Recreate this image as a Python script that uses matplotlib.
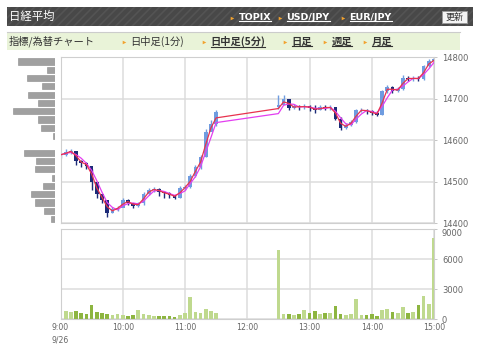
import matplotlib
matplotlib.use("Agg")
import numpy as np
import pandas as pd
import matplotlib.pyplot as plt
from matplotlib.patches import Rectangle
from matplotlib.lines import Line2D

# ---- data (5-minute bars, Nikkei 225 intraday, 9/26) ----
am_minutes = list(range(0, 151, 5))      # 9:00 .. 11:30
pm_minutes = list(range(210, 361, 5))    # 12:30 .. 15:00

am_open_first = 14560
pm_open_first = 14680

close_am = [14565, 14572, 14575, 14550, 14545, 14538, 14500, 14470, 14455, 14425,
            14435, 14437, 14455, 14450, 14442, 14448, 14470, 14480, 14483, 14475,
            14472, 14468, 14462, 14485, 14487, 14515, 14535, 14560, 14620, 14640, 14668]
high_am = [14570, 14578, 14580, 14565, 14552, 14548, 14530, 14480, 14470, 14455,
           14440, 14442, 14460, 14458, 14450, 14452, 14475, 14485, 14488, 14485,
           14478, 14475, 14468, 14490, 14492, 14520, 14540, 14565, 14628, 14648, 14672]
low_am = [14558, 14562, 14566, 14540, 14536, 14530, 14480, 14460, 14448, 14415,
          14425, 14430, 14440, 14444, 14438, 14440, 14445, 14468, 14475, 14465,
          14462, 14460, 14458, 14460, 14480, 14485, 14512, 14532, 14560, 14622, 14635]

close_pm = [14685, 14700, 14678, 14682, 14680, 14682, 14678, 14672, 14680, 14678,
            14680, 14652, 14630, 14637, 14645, 14672, 14673, 14670, 14665, 14662,
            14718, 14728, 14718, 14724, 14750, 14748, 14750, 14748, 14778, 14790, 14795]
high_pm = [14710, 14708, 14690, 14688, 14686, 14688, 14686, 14684, 14686, 14684,
           14686, 14680, 14655, 14642, 14650, 14676, 14678, 14676, 14672, 14670,
           14722, 14733, 14730, 14728, 14758, 14756, 14756, 14754, 14782, 14796, 14800]
low_pm = [14676, 14690, 14672, 14675, 14674, 14675, 14670, 14666, 14672, 14672,
          14674, 14648, 14625, 14628, 14635, 14642, 14668, 14664, 14660, 14658,
          14660, 14715, 14714, 14716, 14722, 14742, 14744, 14744, 14746, 14776, 14785]

volume_am = [8300, 800, 700, 800, 600, 500, 1400, 700, 600, 500,
             400, 500, 400, 350, 450, 900, 500, 400, 350, 300,
             350, 300, 250, 400, 600, 2200, 700, 600, 1000, 800, 600]
volume_pm = [6900, 500, 550, 450, 500, 900, 600, 800, 500, 600,
             650, 1300, 500, 400, 500, 2000, 450, 400, 500, 350,
             900, 1000, 700, 600, 1200, 600, 700, 1400, 2300, 1500, 8100]

# volume-by-price histogram (bins of 20 yen, from 14400 upward)
vbp_bins = list(range(14400, 14800, 20))
vbp_volume = [4, 11, 20, 24, 12, 3, 20, 19, 31, 0,
              2, 14, 17, 42, 17, 27, 13, 28, 8, 37]

time_ticks = [0, 60, 120, 180, 240, 300, 360]
time_labels = ['9:00\n9/26', '10:00', '11:00', '12:00', '13:00', '14:00', '15:00']
price_ticks = [14400, 14500, 14600, 14700, 14800]
volume_ticks = [0, 3000, 6000, 9000]

# ---- build frame ----
t = np.array(am_minutes + pm_minutes)
close = pd.Series(close_am + close_pm)
high = np.array(high_am + high_pm)
low = np.array(low_am + low_pm)
opens = close.shift(1).to_numpy()
opens[0] = am_open_first
opens[len(am_minutes)] = pm_open_first
volume = np.array(volume_am + volume_pm)
ma_short = close.rolling(2, min_periods=1).mean()
ma_long = close.rolling(3, min_periods=1).mean()
up = close.to_numpy() >= opens

W, H = 480, 348
fig = plt.figure(figsize=(W / 100, H / 100), dpi=100)
fig.patch.set_facecolor('white')

grid_c = '#dcdcdc'
tick_c = '#666666'
cjk = ['Noto Sans CJK JP', 'DejaVu Sans']


def px_axes(x0, y0, x1, y1):
    return fig.add_axes([x0 / W, 1 - y1 / H, (x1 - x0) / W, (y1 - y0) / H])


def style_axes(ax):
    for s in ax.spines.values():
        s.set_color('#cfcfcf')
        s.set_linewidth(0.8)
    ax.grid(True, color=grid_c, linewidth=1.1)
    ax.set_axisbelow(True)
    ax.yaxis.tick_right()
    ax.tick_params(axis='y', length=2.5, width=0.6, color='#bbbbbb',
                   labelsize=6.0, labelcolor=tick_c, pad=3.2)


# price panel
ax = px_axes(60.5, 57.3, 434, 223.3)
style_axes(ax)
ax.set_xlim(0, 360)
ax.set_ylim(14400, 14800)
ax.set_yticks(price_ticks)
ax.set_xticks(time_ticks)
ax.tick_params(axis='x', length=0, labelbottom=False)

candle_col = np.where(up, '#6f9ce0', '#1c2b78')
ax.vlines(t, low, high, colors=candle_col, linewidth=1.0, zorder=2)
body = np.abs(close.to_numpy() - opens)
body = np.where(body < 1.5, 1.5, body)
ax.bar(t, body, bottom=np.minimum(close.to_numpy(), opens), width=3.6,
       color=candle_col, linewidth=0, zorder=2)
ax.plot(t, ma_long, color='#e33ef0', linewidth=0.9, zorder=3)
ax.plot(t, ma_short, color='#e8324e', linewidth=0.9, zorder=4)

# volume panel
axv = px_axes(60.5, 229.3, 434, 319.3)
style_axes(axv)
axv.set_xlim(0, 360)
axv.set_ylim(0, 9000)
axv.set_yticks(volume_ticks)
axv.set_xticks(time_ticks)
axv.set_xticklabels(time_labels)
axv.tick_params(axis='x', length=0, labelsize=5.6, labelcolor=tick_c, pad=3)
for lab in axv.get_xticklabels():
    lab.set_linespacing(1.45)
    lab.set_verticalalignment('top')
# top label sits just under the price panel's bottom label
axv.get_yticklabels()[-1].set_verticalalignment('top')
vol_col = np.where(up, '#bfd98e', '#8db540')
axv.bar(t, volume, width=3.6, color=vol_col, linewidth=0, zorder=2)

# volume-by-price histogram
axh = px_axes(10, 57.3, 55.5, 223.3)
axh.set_ylim(14400, 14800)
axh.set_xlim(45, 0)
axh.barh(np.array(vbp_bins) + 10, vbp_volume, height=15, color='#a0a0a0',
         edgecolor='#8a8a8a', linewidth=0.4)
axh.axis('off')

# ---- header ----
hd = fig.add_axes([0, 0, 1, 1], zorder=5)
hd.set_xlim(0, W)
hd.set_ylim(H, 0)
hd.axis('off')
hd.patch.set_alpha(0)

plt.rcParams['hatch.linewidth'] = 1.2
hd.add_patch(Rectangle((7, 7), 466, 19, facecolor='#484848',
                       edgecolor='#545454', hatch='////', linewidth=0))
hd.text(9, 16.5, '日経平均', color='white', fontsize=8.2, family=cjk,
        va='center', ha='left')

hd.add_patch(Rectangle((7, 32), 453, 18, facecolor='#e9f3d8', linewidth=0))
hd.add_line(Line2D([7, 460], [32.3, 32.3], color='#cccccc', linewidth=0.8))
hd.add_patch(Rectangle((442, 11), 25, 12, facecolor='#f4f4f4',
                       edgecolor='#9a9a9a', linewidth=0.7))
hd.text(454.5, 17, '更新', color='#333333', fontsize=6.5, family=cjk,
        va='center', ha='center')

links = []
for x, label in [(232, 'TOPIX'), (280, 'USD/JPY'), (343, 'EUR/JPY')]:
    hd.plot(x, 17.5, marker='>', markersize=2.6, color='#f2a22e', markeredgewidth=0)
    txt = hd.text(x + 6.5, 17, label, color='white', fontsize=6.8,
                  fontweight='bold', family=['DejaVu Sans'], va='center', ha='left')
    links.append((txt, 'white'))

hd.text(9, 41.5, '指標/為替チャート', color='#333333', fontsize=7.4, family=cjk,
        va='center', ha='left')
nav = [(124, '日中足(1分)', False), (204, '日中足(5分)', True),
       (285, '日足', True), (325, '週足', True), (365, '月足', True)]
for x, label, bold in nav:
    hd.plot(x, 41.5, marker='>', markersize=2.6, color='#f2a22e', markeredgewidth=0)
    txt = hd.text(x + 6.5, 41.5, label, color='#333333', fontsize=7.4, family=cjk,
                  fontweight='bold' if bold else 'normal', va='center', ha='left')
    if bold:
        links.append((txt, '#333333'))

# underline link texts
fig.canvas.draw()
r = fig.canvas.get_renderer()
inv = hd.transData.inverted()
for txt, c in links:
    bb = txt.get_window_extent(renderer=r)
    (x0, y0), (x1, _) = inv.transform([[bb.x0, bb.y0], [bb.x1, bb.y1]])
    hd.add_line(Line2D([x0, x1], [y0 - 0.2, y0 - 0.2], color=c, linewidth=0.8))

fig.savefig('out.png', dpi=100)
